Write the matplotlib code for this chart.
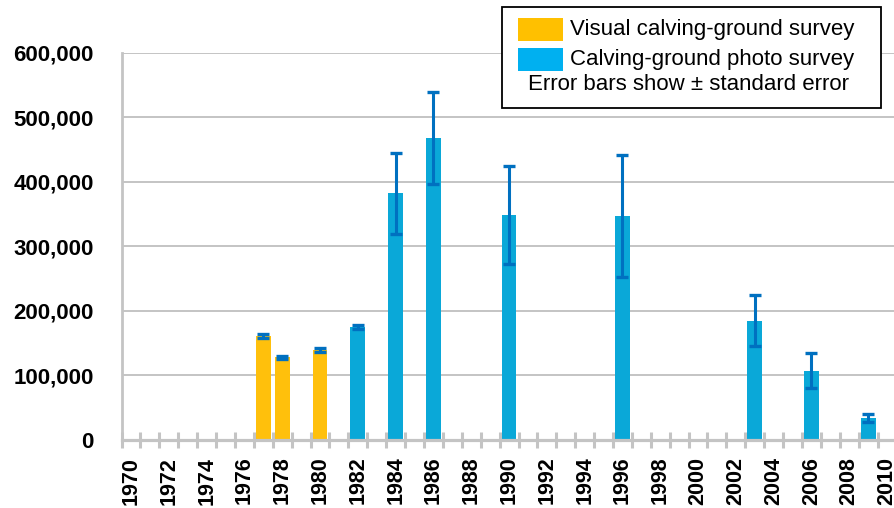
import matplotlib
matplotlib.use("Agg")
import matplotlib.pyplot as plt
from matplotlib.patches import Rectangle

# southern right whale calving-ground estimates
years = [1977, 1978, 1980, 1982, 1984, 1986, 1990, 1996, 2003, 2006, 2009]
estimates = [161000, 128000, 139000, 175000, 382000, 468000, 349000, 347000, 185000, 107000, 34000]
std_err = [3000, 2000, 3000, 3000, 63000, 71000, 76000, 95000, 39000, 27000, 6000]
survey = ['visual', 'visual', 'visual', 'photo', 'photo', 'photo', 'photo', 'photo', 'photo', 'photo', 'photo']

first_year = 1970
last_year = 2010
y_ticks = [0, 100000, 200000, 300000, 400000, 500000, 600000]

bar_colours = {'visual': '#FFC00C', 'photo': '#0AA8D8'}
legend_colours = {'visual': '#FFC000', 'photo': '#00B0F0'}
legend_labels = {'visual': 'Visual calving-ground survey', 'photo': 'Calving-ground photo survey'}
err_colour = '#0070C0'
grey = '#C4C4C4'

W, H = 895, 508
fig = plt.figure(figsize=(W / 100, H / 100), dpi=100)

# plot area in pixels (the right edge runs slightly off the picture, as in the original)
left, right, top, bottom = 121.6, 896.5, 52.5, 440.0
ax = fig.add_axes([left / W, 1 - bottom / H, (right - left) / W, (bottom - top) / H])

x = [y - first_year for y in years]
colours = [bar_colours[s] for s in survey]
ax.bar(x, estimates, width=0.78, color=colours, zorder=3)
ax.errorbar(x, estimates, yerr=std_err, fmt='none', ecolor=err_colour,
            elinewidth=2.2, capsize=4.3, capthick=2.4, zorder=4)

ax.set_xlim(-0.5, last_year - first_year + 0.5)
ax.set_ylim(0, 600000)

ax.set_yticks(y_ticks)
ax.set_yticklabels(['{:,}'.format(v) for v in y_ticks], fontsize=16, fontweight='bold',
                   fontfamily='Liberation Sans')
ax.tick_params(axis='y', length=0, pad=20)
ax.grid(axis='y', color=grey, linewidth=1.4, zorder=0)

major = list(range(0, last_year - first_year + 1, 2))
ax.set_xticks(major)
ax.set_xticklabels([str(first_year + m) for m in major], rotation=90, fontsize=15.5,
                   fontweight='bold', fontfamily='Liberation Sans')
ax.set_xticks([m - 0.5 for m in range(0, last_year - first_year + 2)], minor=True)
ax.tick_params(axis='x', which='major', length=0, pad=12)
ax.tick_params(axis='x', which='minor', direction='inout', length=11, width=2.2, color=grey)

for side in ['top', 'right']:
    ax.spines[side].set_visible(False)
ax.spines['bottom'].set_color(grey)
ax.spines['bottom'].set_linewidth(2.3)
ax.spines['bottom'].set_zorder(5)
ax.spines['left'].set_color(grey)
ax.spines['left'].set_linewidth(2.0)

# legend box, drawn by hand so that the third line can be centred
def fx(px):
    return px / W

def fy(py):
    return 1 - py / H

box = Rectangle((fx(502), fy(108)), fx(881) - fx(502), (108 - 7) / H,
                transform=fig.transFigure, facecolor='white', edgecolor='black',
                linewidth=1.3, zorder=10)
fig.patches.append(box)
for i, key in enumerate(['visual', 'photo']):
    y0 = 18 + i * 30
    fig.patches.append(Rectangle((fx(518), fy(y0 + 23)), (563 - 518) / W, 23 / H,
                                 transform=fig.transFigure, facecolor=legend_colours[key],
                                 edgecolor='none', zorder=11))
    fig.text(fx(570), fy(y0 + 11.5), legend_labels[key], fontsize=16,
             fontfamily='Liberation Sans', va='center', ha='left', zorder=12)
fig.text(fx(689), fy(84.5), 'Error bars show \u00b1 standard error', fontsize=16,
         fontfamily='Liberation Sans', va='center', ha='center', zorder=12)

fig.savefig('out.png', dpi=100)
